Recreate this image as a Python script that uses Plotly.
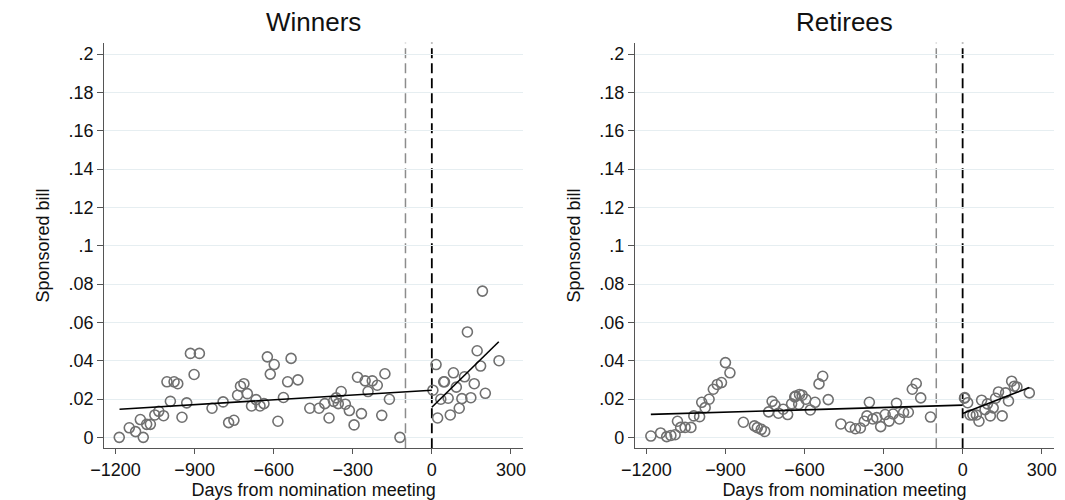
import plotly.graph_objects as go

# Winners: days from nomination meeting, share with sponsored bill
win_days = [-1186, -1148, -1124, -1095, -1106, -1082, -1068, -1051, -1036, -1018,
            -1005, -978, -964, -992, -948, -930, -916, -882, -902, -834,
            -792, -771, -751, -737, -726, -713, -700, -684, -667, -652,
            -637, -624, -598, -613, -584, -534, -547, -508, -563, -463,
            -428, -406, -390, -373, -363, -355, -344, -328, -313, -295,
            -282, -267, -253, -242, -226, -207, -190, -178, -161, -121,
            4, 16, 45, 34, 22, 192, 135, 172, 255, 185,
            82, 48, 124, 161, 93, 62, 114, 148, 203, 104, 70]
win_vals = [0.000, 0.005, 0.003, 0.000, 0.0093, 0.0068, 0.0068, 0.0117, 0.0136, 0.0113,
            0.029, 0.029, 0.028, 0.0188, 0.0105, 0.018, 0.0438, 0.0438, 0.0328, 0.0152,
            0.0185, 0.0077, 0.0089, 0.022, 0.0267, 0.028, 0.0228, 0.0164, 0.0197, 0.0164,
            0.0176, 0.042, 0.038, 0.033, 0.0084, 0.0412, 0.029, 0.030, 0.0208, 0.0152,
            0.0152, 0.0176, 0.0101, 0.0188, 0.0206, 0.0176, 0.0239, 0.0173, 0.014, 0.0065,
            0.0314, 0.0124, 0.0295, 0.0239, 0.0295, 0.0272, 0.0115, 0.0332, 0.0199, 0.000,
            0.0246, 0.038, 0.029, 0.0199, 0.0101, 0.0763, 0.055, 0.0452, 0.040, 0.0372,
            0.0337, 0.029, 0.0316, 0.028, 0.0262, 0.0204, 0.0202, 0.0207, 0.023, 0.0152, 0.0117]
win_fit_pre_x = [-1185, 0]
win_fit_pre_y = [0.0147, 0.0246]
win_fit_post_x = [0, 254]
win_fit_post_y = [0.0157, 0.0499]

# Retirees
ret_days = [-1183, -1146, -1123, -1107, -1091, -1082, -1070, -1053, -1031, -1020,
            -998, -990, -977, -962, -946, -931, -915, -900, -883, -832,
            -790, -779, -764, -751, -736, -723, -712, -699, -681, -664,
            -649, -634, -619, -637, -622, -609, -595, -578, -560, -545,
            -531, -510, -462, -427, -407, -388, -373, -363, -354, -341,
            -326, -311, -294, -279, -264, -251, -240, -224, -206, -191,
            -176, -159, -122, 7, 8, 19, 28, 39, 52, 62,
            72, 85, 94, 105, 116, 125, 136, 150, 163, 174,
            186, 196, 206, 253]
ret_vals = [0.0007, 0.0023, 0.0004, 0.001, 0.0014, 0.0084, 0.0052, 0.0052, 0.0052, 0.0112,
            0.0108, 0.0183, 0.0155, 0.0199, 0.0251, 0.0276, 0.0286, 0.039, 0.0337, 0.0079,
            0.006, 0.0051, 0.0042, 0.0031, 0.0133, 0.0188, 0.0169, 0.0126, 0.0147, 0.0119,
            0.0175, 0.0215, 0.0224, 0.0211, 0.0173, 0.022, 0.0199, 0.0143, 0.0183, 0.0279,
            0.0319, 0.0197, 0.007, 0.0054, 0.0045, 0.0049, 0.0084, 0.0112, 0.0183, 0.0096,
            0.0103, 0.0056, 0.0119, 0.0085, 0.0122, 0.0178, 0.0096, 0.013, 0.0131, 0.0251,
            0.0281, 0.0206, 0.0106, 0.0204, 0.0208, 0.0181, 0.0117, 0.0117, 0.0117, 0.0084,
            0.0194, 0.0145, 0.0175, 0.0112, 0.0154, 0.0204, 0.0237, 0.0112, 0.0232, 0.019,
            0.0293, 0.0267, 0.0263, 0.0232]
ret_fit_pre_x = [-1183, 0]
ret_fit_pre_y = [0.012, 0.0168]
ret_fit_post_x = [0, 253]
ret_fit_post_y = [0.0124, 0.026]

titles = ["Winners", "Retirees"]
x_ticks = [-1200, -900, -600, -300, 0, 300]
y_ticks = [0, 0.02, 0.04, 0.06, 0.08, 0.1, 0.12, 0.14, 0.16, 0.18, 0.2]
y_tick_labels = ["0", ".02", ".04", ".06", ".08", ".1", ".12", ".14", ".16", ".18", ".2"]
x_title = "Days from nomination meeting"
y_title = "Sponsored bill"

fig = go.Figure()
panels = [
    (win_days, win_vals, win_fit_pre_x, win_fit_pre_y, win_fit_post_x, win_fit_post_y, "x", "y"),
    (ret_days, ret_vals, ret_fit_pre_x, ret_fit_pre_y, ret_fit_post_x, ret_fit_post_y, "x2", "y2"),
]
for d, v, px, py, qx, qy, xa, ya in panels:
    fig.add_trace(go.Scatter(x=d, y=v, mode="markers", xaxis=xa, yaxis=ya,
                             marker=dict(symbol="circle-open", size=10, color="#707070",
                                         line=dict(width=1.6, color="#707070")),
                             showlegend=False, hoverinfo="skip"))
    fig.add_trace(go.Scatter(x=px, y=py, mode="lines", xaxis=xa, yaxis=ya,
                             line=dict(color="black", width=1.6), showlegend=False,
                             hoverinfo="skip"))
    fig.add_trace(go.Scatter(x=qx, y=qy, mode="lines", xaxis=xa, yaxis=ya,
                             line=dict(color="black", width=1.6), showlegend=False,
                             hoverinfo="skip"))
    fig.add_shape(type="line", xref=xa, yref=ya + " domain", x0=-100, x1=-100, y0=0, y1=1,
                  line=dict(color="#8c8c8c", width=1.5, dash="10px,5px"), layer="below")
    fig.add_shape(type="line", xref=xa, yref=ya + " domain", x0=0, x1=0, y0=0, y1=1,
                  line=dict(color="black", width=1.8, dash="10px,5px"), layer="below")

font = "Arial, Liberation Sans, sans-serif"
fs = 18
xcommon = dict(range=[-1243, 346], tickvals=x_ticks, ticks="outside", ticklen=5,
               tickcolor="#555", showline=True, linecolor="#555", linewidth=1.2,
               showgrid=False, zeroline=False, tickfont=dict(size=fs, color="#111", family=font),
               title=dict(text=x_title, font=dict(size=fs, color="#111", family=font), standoff=2))
ycommon = dict(range=[-0.0057, 0.2059], tickvals=y_ticks, ticktext=y_tick_labels,
               ticks="outside", ticklen=6, tickcolor="#555", showline=True, linecolor="#555",
               linewidth=1.2, showgrid=True, gridcolor="#e6eef1", gridwidth=1, zeroline=False,
               tickfont=dict(size=fs, color="#111", family=font),
               title=dict(text=y_title, font=dict(size=fs, color="#111", family=font), standoff=14))

fig.update_layout(
    width=1065, height=500,
    margin=dict(l=0, r=0, t=0, b=0),
    plot_bgcolor="white", paper_bgcolor="white",
    hovermode=False,
    xaxis=dict(domain=[0.0861, 0.4857], anchor="y", **xcommon),
    yaxis=dict(domain=[0.1034, 0.9146], anchor="x", **ycommon),
    xaxis2=dict(domain=[0.5926, 0.9922], anchor="y2", **xcommon),
    yaxis2=dict(domain=[0.1034, 0.9146], anchor="x2", **ycommon),
    annotations=[
        dict(text=titles[0], x=0.2859, y=1 - 22 / 500, xref="paper", yref="paper",
             xanchor="center", yanchor="middle", showarrow=False,
             font=dict(size=26, color="#111", family=font)),
        dict(text=titles[1], x=0.7924, y=1 - 22 / 500, xref="paper", yref="paper",
             xanchor="center", yanchor="middle", showarrow=False,
             font=dict(size=26, color="#111", family=font)),
    ],
)
fig.write_html("out.html", config={"displayModeBar": False},
               post_script="document.body.style.margin='0';")
